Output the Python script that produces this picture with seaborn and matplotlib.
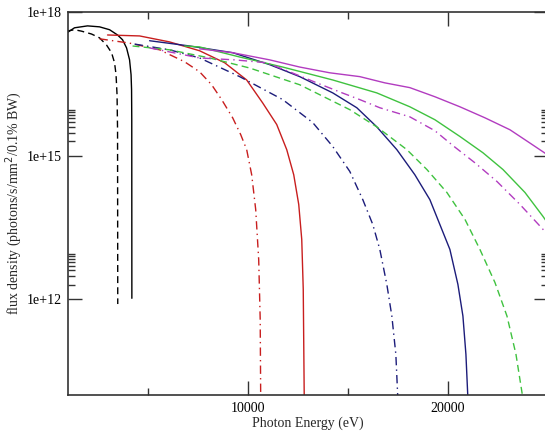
import numpy as np
import pandas as pd
import seaborn as sns
import matplotlib.pyplot as plt
from matplotlib.ticker import FixedLocator, NullFormatter

sns.set_theme(style="ticks")
plt.rcParams['font.family'] = ['Liberation Serif', 'DejaVu Serif']

# photon energy (eV) and log10(flux density)
black_solid_e = [950, 1350, 2000, 2600, 3100, 3500, 3750, 3950, 4100, 4175, 4200, 4210, 4215]
black_solid_f = [17.56, 17.67, 17.71, 17.69, 17.63, 17.52, 17.42, 17.25, 17.0, 16.69, 16.38, 15.75, 12.02]

black_dash_e = [950, 1350, 1700, 2200, 2600, 2950, 3200, 3350, 3425, 3475, 3500, 3510]
black_dash_f = [17.60, 17.63, 17.60, 17.54, 17.46, 17.31, 17.15, 16.94, 16.69, 16.27, 15.54, 11.90]

red_solid_e = [3000, 4600, 6100, 7600, 8850, 9950, 10750, 11450, 11950, 12300, 12550, 12700, 12775, 12825]
red_solid_f = [17.52, 17.50, 17.375, 17.19, 16.94, 16.58, 16.10, 15.65, 15.125, 14.60, 13.98, 13.25, 12.21, 9.92]

red_dash_e = [2600, 4100, 5600, 6850, 7600, 8200, 8700, 9250, 9650, 9950, 10200, 10400, 10550, 10625, 10650]
red_dash_f = [17.44, 17.35, 17.21, 16.96, 16.75, 16.48, 16.17, 15.79, 15.44, 15.125, 14.60, 13.875, 12.83, 11.58, 9.92]

blue_solid_e = [5100, 7100, 9250, 11100, 12600, 14250, 15450, 16450, 17450, 18350, 19100, 20100, 20500, 20750, 20900, 21000]
blue_solid_f = [17.40, 17.29, 17.15, 16.90, 16.65, 16.31, 16.0, 15.60, 15.125, 14.60, 14.08, 13.04, 12.31, 11.65, 10.85, 9.92]

blue_dash_e = [4350, 6100, 7600, 9600, 11750, 13250, 14250, 15100, 15750, 16250, 16600, 16950, 17200, 17400, 17500]
blue_dash_f = [17.33, 17.21, 17.04, 16.65, 16.17, 15.69, 15.19, 14.67, 14.08, 13.56, 13.04, 12.31, 11.65, 10.85, 9.92]

green_solid_e = [6850, 7600, 9600, 11750, 14250, 16450, 18100, 19350, 20600, 21750, 22750, 23850, 24750, 25100]
green_solid_f = [17.29, 17.27, 17.06, 16.85, 16.58, 16.31, 16.02, 15.75, 15.40, 15.06, 14.71, 14.23, 13.73, 13.52]

green_dash_e = [4250, 6100, 8100, 10100, 12600, 15100, 16450, 17950, 18950, 19950, 20850, 21600, 22350, 22950, 23400, 23750]
green_dash_f = [17.29, 17.21, 17.04, 16.83, 16.48, 15.96, 15.60, 15.125, 14.71, 14.23, 13.67, 13.04, 12.35, 11.65, 10.85, 9.92]

magenta_solid_e = [7600, 9250, 11100, 12600, 14100, 15600, 16850, 18100, 19350, 20600, 21850, 23100, 24000, 24750, 25100]
magenta_solid_f = [17.23, 17.15, 17.0, 16.85, 16.73, 16.65, 16.52, 16.42, 16.23, 16.02, 15.79, 15.54, 15.29, 15.08, 14.98]

magenta_dash_e = [5100, 7600, 9350, 10950, 12100, 13450, 14600, 15600, 16600, 18100, 19350, 20250, 21350, 22450, 23600, 24750, 25100]
magenta_dash_f = [17.25, 17.04, 17.0, 16.94, 16.75, 16.52, 16.33, 16.17, 16.0, 15.81, 15.52, 15.21, 14.85, 14.46, 13.98, 13.46, 13.31]

series = [
    (black_solid_e, black_solid_f, "black", "-"),
    (black_dash_e, black_dash_f, "black", (0, (5, 3))),
    (red_solid_e, red_solid_f, "#c81e1e", "-"),
    (red_dash_e, red_dash_f, "#c81e1e", (0, (6, 3, 1, 3))),
    (blue_solid_e, blue_solid_f, "#1c1c7a", "-"),
    (blue_dash_e, blue_dash_f, "#1c1c7a", (0, (6, 3, 1, 3))),
    (green_solid_e, green_solid_f, "#3fc23f", "-"),
    (green_dash_e, green_dash_f, "#3fc23f", (0, (5, 3))),
    (magenta_solid_e, magenta_solid_f, "#b23cc0", "-"),
    (magenta_dash_e, magenta_dash_f, "#b23cc0", (0, (6, 3, 1, 3))),
]

fig = plt.figure(figsize=(5.45, 4.32), dpi=100)
ax = fig.add_axes([67.5 / 545, 37 / 432, 480.5 / 545, 383 / 432])

for e, f, col, ls in series:
    df = pd.DataFrame({"energy": e, "flux": 10 ** np.array(f)})
    sns.lineplot(data=df, x="energy", y="flux", ax=ax, color=col, linestyle=ls,
                 linewidth=1.0, estimator=None, sort=False)

ax.set_yscale("log")
ax.set_xlim(1000, 25000)
ax.set_ylim(1e10, 1e18)

ax.xaxis.set_major_locator(FixedLocator([10000, 20000]))
ax.xaxis.set_minor_locator(FixedLocator([5000, 15000, 25000]))
ax.set_xticklabels(["10000", "20000"])

ax.yaxis.set_major_locator(FixedLocator([1e12, 1e15, 1e18]))
ax.yaxis.set_minor_locator(FixedLocator([k * 1e12 for k in range(2, 10)] + [k * 1e15 for k in range(2, 10)]))
ax.yaxis.set_minor_formatter(NullFormatter())
ax.set_yticklabels(["1e+12", "1e+15", "1e+18"])

ax.tick_params(which="both", direction="in", top=True, right=True, colors="#333333",
               labelcolor="black", labelsize=10, width=1.0)
ax.tick_params(which="major", length=10)
ax.tick_params(which="minor", length=5)
ax.tick_params(axis="y", pad=4)
ax.tick_params(axis="x", pad=5)

for s in ax.spines.values():
    s.set_color("#333333")
    s.set_linewidth(1.2)

ax.set_xlabel("Photon Energy (eV)", fontsize=10, labelpad=1)
ax.set_ylabel("flux density (photons/s/mm$^2$/0.1% BW)", fontsize=10)
ax.yaxis.set_label_coords(-0.09, 0.5)

fig.savefig("out.png", dpi=100)
